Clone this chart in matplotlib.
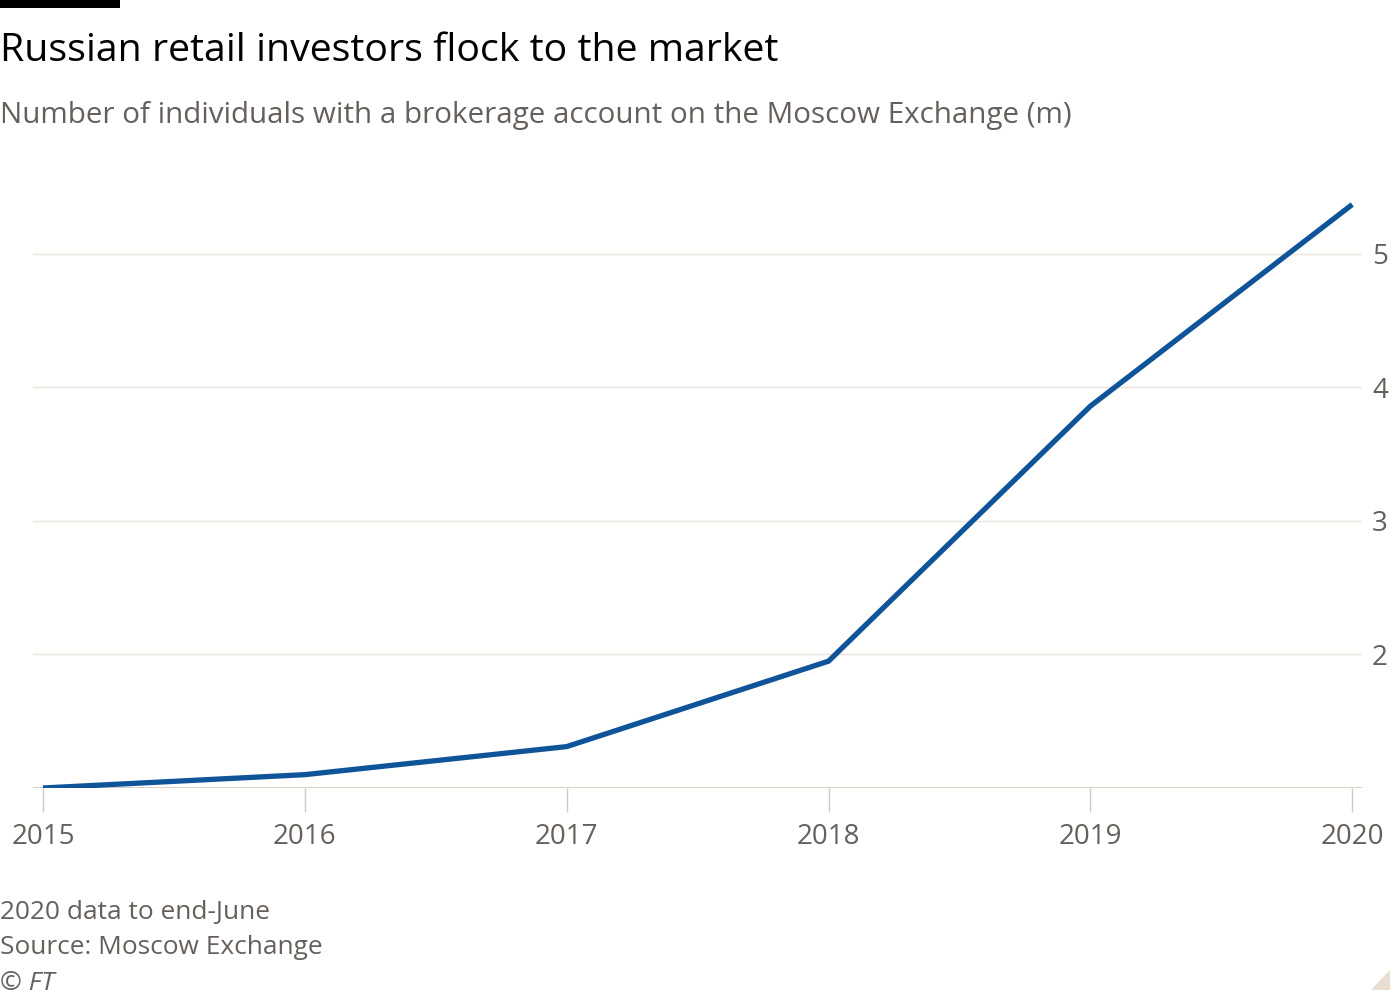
import matplotlib
matplotlib.use("Agg")
import matplotlib.pyplot as plt
from matplotlib.patches import Polygon, Rectangle

# Individuals with a Moscow Exchange brokerage account (m)
years = [2015, 2016, 2017, 2018, 2019, 2020]
accounts = [1.00, 1.10, 1.31, 1.95, 3.86, 5.37]
y_ticks = [2, 3, 4, 5]

TITLE = "Russian retail investors flock to the market"
SUBTITLE = "Number of individuals with a brokerage account on the Moscow Exchange (m)"
NOTES = ["2020 data to end-June", "Source: Moscow Exchange"]

COLOR_LINE = "#0f5499"
COLOR_GRID = "#ece3da"
COLOR_BASE = "#d2c8bf"
COLOR_TEXT = "#66605c"

plt.rcParams["font.family"] = ["Open Sans", "DejaVu Sans"]

fig = plt.figure(figsize=(14, 10), dpi=100)
fig.patch.set_facecolor("white")
ax = fig.add_axes([0.0236, 0.212, 0.9494, 0.5875])

ax.plot(years, accounts, color=COLOR_LINE, linewidth=3.8, solid_capstyle="butt",
        solid_joinstyle="miter", zorder=3)

ax.set_xlim(2014.962, 2020.038)
ax.set_ylim(1, 5.4)
ax.set_yticks(y_ticks)
ax.set_xticks(years)
ax.set_xticklabels([str(y) for y in years])

ax.yaxis.tick_right()
ax.grid(axis="y", color=COLOR_GRID, linewidth=1)
ax.axhline(1, color=COLOR_BASE, linewidth=1.2, zorder=2)
for s in ax.spines.values():
    s.set_visible(False)

ax.tick_params(axis="y", length=0, pad=7, labelsize=20, labelcolor=COLOR_TEXT)
ax.tick_params(axis="x", length=17, width=1, color=COLOR_BASE, pad=8,
               labelsize=20, labelcolor=COLOR_TEXT)

# header bar, title, subtitle
fig.add_artist(Rectangle((0, 0.992), 0.0857, 0.008, transform=fig.transFigure,
                         color="black", lw=0))
fig.text(0.0, 0.949, TITLE, fontsize=28.3, color="#000000", va="center", ha="left")
fig.text(0.0, 0.885, SUBTITLE, fontsize=21.3, color=COLOR_TEXT, va="center", ha="left")

# footer
fig.text(0.0, 0.087, NOTES[0], fontsize=18.9, color=COLOR_TEXT, va="center", ha="left")
fig.text(0.0, 0.052, NOTES[1], fontsize=18.9, color=COLOR_TEXT, va="center", ha="left")
fig.text(0.0, 0.016, "© FT", fontsize=18.9, color=COLOR_TEXT, va="center", ha="left",
         style="italic")

# corner mark
fig.add_artist(Polygon([(0.979, 0.010), (0.993, 0.010), (0.993, 0.030)],
                       closed=True, transform=fig.transFigure, color="#e9ddd2", lw=0))

fig.savefig("out.png", dpi=100, facecolor="white")
